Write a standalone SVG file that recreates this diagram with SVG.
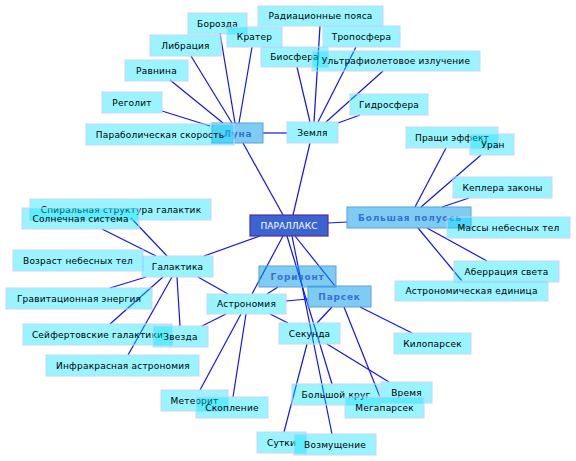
<svg xmlns="http://www.w3.org/2000/svg" width="576" height="461" viewBox="0 0 576 461">
<style>
.l{fill:#00e4ff;fill-opacity:0.4;stroke:#c8d4ff;stroke-width:1}
.d{fill:#0099e6;fill-opacity:0.5;stroke:#5aa0e0;stroke-width:1}
.c{fill:#3a64d0;stroke:#5a2aa0;stroke-width:1.2}
.t{font-family:"DejaVu Sans",sans-serif;font-size:9px;fill:#000;text-anchor:middle;letter-spacing:0.2px}
.b{font-family:"DejaVu Sans",sans-serif;font-size:9px;font-weight:bold;fill:#3a6fd6;text-anchor:middle;letter-spacing:0.8px}
.w{font-family:"DejaVu Sans",sans-serif;font-size:9px;fill:#fff;text-anchor:middle}
#edges line{stroke:#1414f5;stroke-width:1.2}
</style>
<g id="edges">
<line x1="210" y1="126" x2="162" y2="111"/>
<line x1="223" y1="123" x2="170" y2="80"/>
<line x1="232" y1="123" x2="191" y2="56"/>
<line x1="235" y1="123" x2="220" y2="33"/>
<line x1="239" y1="123" x2="252" y2="47"/>
<line x1="263" y1="133" x2="287" y2="133"/>
<line x1="243" y1="143" x2="283" y2="215"/>
<line x1="320" y1="26" x2="314" y2="122"/>
<line x1="297" y1="67" x2="310" y2="122"/>
<line x1="356" y1="47" x2="318" y2="122"/>
<line x1="383" y1="71" x2="326" y2="122"/>
<line x1="360" y1="115" x2="338" y2="123"/>
<line x1="310" y1="143" x2="293" y2="215"/>
<line x1="446" y1="148" x2="415" y2="207"/>
<line x1="481" y1="155" x2="421" y2="207"/>
<line x1="469" y1="198" x2="442" y2="207"/>
<line x1="487" y1="261" x2="427" y2="228"/>
<line x1="462" y1="281" x2="418" y2="228"/>
<line x1="328" y1="223" x2="347" y2="222"/>
<line x1="131" y1="218" x2="167" y2="256"/>
<line x1="102" y1="229" x2="156" y2="256"/>
<line x1="110" y1="288" x2="146" y2="277"/>
<line x1="110" y1="324" x2="163" y2="277"/>
<line x1="128" y1="355" x2="172" y2="277"/>
<line x1="177" y1="277" x2="180" y2="326"/>
<line x1="198" y1="277" x2="228" y2="294"/>
<line x1="260" y1="236" x2="204" y2="256"/>
<line x1="283" y1="236" x2="252" y2="294"/>
<line x1="287" y1="236" x2="332" y2="384"/>
<line x1="292" y1="236" x2="332" y2="434"/>
<line x1="295" y1="236" x2="335" y2="286"/>
<line x1="278" y1="287" x2="267" y2="294"/>
<line x1="286" y1="301" x2="308" y2="299"/>
<line x1="226" y1="314" x2="202" y2="326"/>
<line x1="241" y1="314" x2="200" y2="390"/>
<line x1="246" y1="314" x2="233" y2="397"/>
<line x1="270" y1="314" x2="288" y2="323"/>
<line x1="332" y1="307" x2="317" y2="323"/>
<line x1="344" y1="307" x2="380" y2="397"/>
<line x1="360" y1="307" x2="412" y2="333"/>
<line x1="307" y1="344" x2="284" y2="432"/>
<line x1="327" y1="344" x2="389" y2="382"/>
</g>
<g id="n-luna"><rect class="d" x="212" y="123" width="51" height="20"/><text class="b" x="238" y="136.5">Луна</text></g>
<g id="n-bolshaya"><rect class="d" x="347" y="207" width="124" height="21"/><text class="b" x="410" y="220.5">Большая полуось</text></g>
<g id="n-gorizont"><rect class="d" x="259" y="266" width="77" height="21"/><text class="b" x="297.5" y="279.5">Горизонт</text></g>
<g id="n-parsek"><rect class="d" x="308" y="286" width="63" height="21"/><text class="b" x="339.5" y="299.5">Парсек</text></g>
<g id="n-parallaks"><rect class="c" x="250" y="215" width="78" height="21"/><text class="w" x="289" y="228.5">ПАРАЛЛАКС</text></g>
<g id="n-borozda"><rect class="l" x="188" y="13" width="59" height="21"/><text class="t" x="217.5" y="26.5">Борозда</text></g>
<g id="n-krater"><rect class="l" x="227" y="27" width="55" height="20"/><text class="t" x="254.5" y="40">Кратер</text></g>
<g id="n-libraciya"><rect class="l" x="150" y="35" width="71" height="21"/><text class="t" x="185.5" y="48.5">Либрация</text></g>
<g id="n-ravnina"><rect class="l" x="125" y="60" width="63" height="21"/><text class="t" x="156.5" y="73.5">Равнина</text></g>
<g id="n-regolit"><rect class="l" x="102" y="92" width="60" height="21"/><text class="t" x="132" y="105.5">Реголит</text></g>
<g id="n-parabol"><rect class="l" x="86" y="124" width="148" height="21"/><text class="t" x="160" y="137.5">Параболическая скорость</text></g>
<g id="n-radiac"><rect class="l" x="258" y="6" width="125" height="20"/><text class="t" x="320.5" y="19">Радиационные пояса</text></g>
<g id="n-troposfera"><rect class="l" x="323" y="26" width="77" height="21"/><text class="t" x="361.5" y="39.5">Тропосфера</text></g>
<g id="n-biosfera"><rect class="l" x="261" y="47" width="67" height="20"/><text class="t" x="294.5" y="60">Биосфера</text></g>
<g id="n-ultra"><rect class="l" x="312" y="51" width="168" height="20"/><text class="t" x="396" y="64">Ультрафиолетовое излучение</text></g>
<g id="n-gidrosfera"><rect class="l" x="350" y="94" width="78" height="21"/><text class="t" x="389" y="107.5">Гидросфера</text></g>
<g id="n-zemlya"><rect class="l" x="287" y="122" width="51" height="21"/><text class="t" x="312.5" y="135.5">Земля</text></g>
<g id="n-prashchi"><rect class="l" x="406" y="127" width="92" height="21"/><text class="t" x="452" y="140.5">Пращи эффект</text></g>
<g id="n-uran"><rect class="l" x="470" y="134" width="44" height="21"/><text class="t" x="493" y="147.5">Уран</text></g>
<g id="n-keplera"><rect class="l" x="453" y="177" width="99" height="21"/><text class="t" x="502.5" y="190.5">Кеплера законы</text></g>
<g id="n-massy"><rect class="l" x="447" y="217" width="123" height="21"/><text class="t" x="508.5" y="230.5">Массы небесных тел</text></g>
<g id="n-aberr"><rect class="l" x="454" y="261" width="105" height="21"/><text class="t" x="506.5" y="274.5">Аберрация света</text></g>
<g id="n-astred"><rect class="l" x="395" y="281" width="153" height="20"/><text class="t" x="471.5" y="294">Астрономическая единица</text></g>
<g id="n-spiral"><rect class="l" x="30" y="199" width="181" height="21"/><text class="t" x="121" y="212.5">Спиральная структура галактик</text></g>
<g id="n-solnech"><rect class="l" x="22" y="208" width="117" height="21"/><text class="t" x="80.5" y="221.5">Солнечная система</text></g>
<g id="n-vozrast"><rect class="l" x="13" y="250" width="130" height="21"/><text class="t" x="78" y="263.5">Возраст небесных тел</text></g>
<g id="n-galaktika"><rect class="l" x="142" y="256" width="71" height="21"/><text class="t" x="177.5" y="269.5">Галактика</text></g>
<g id="n-gravit"><rect class="l" x="6" y="288" width="146" height="21"/><text class="t" x="79" y="301.5">Гравитационная энергия</text></g>
<g id="n-seyfert"><rect class="l" x="23" y="324" width="149" height="21"/><text class="t" x="97.5" y="337.5">Сейфертовские галактики</text></g>
<g id="n-zvezda"><rect class="l" x="153" y="326" width="55" height="21"/><text class="t" x="180.5" y="339.5">Звезда</text></g>
<g id="n-infra"><rect class="l" x="46" y="355" width="153" height="21"/><text class="t" x="123" y="368.5">Инфракрасная астрономия</text></g>
<g id="n-astronomiya"><rect class="l" x="207" y="294" width="79" height="20"/><text class="t" x="246.5" y="307">Астрономия</text></g>
<g id="n-sekunda"><rect class="l" x="279" y="323" width="61" height="21"/><text class="t" x="309.5" y="336.5">Секунда</text></g>
<g id="n-kiloparsek"><rect class="l" x="394" y="333" width="77" height="21"/><text class="t" x="432.5" y="346.5">Килопарсек</text></g>
<g id="n-bolshoykrug"><rect class="l" x="292" y="384" width="88" height="21"/><text class="t" x="336" y="397.5">Большой круг</text></g>
<g id="n-vremya"><rect class="l" x="381" y="382" width="51" height="21"/><text class="t" x="406.5" y="395.5">Время</text></g>
<g id="n-megaparsek"><rect class="l" x="345" y="397" width="79" height="21"/><text class="t" x="384.5" y="410.5">Мегапарсек</text></g>
<g id="n-meteorit"><rect class="l" x="161" y="390" width="67" height="21"/><text class="t" x="194.5" y="403.5">Метеорит</text></g>
<g id="n-skoplenie"><rect class="l" x="196" y="397" width="72" height="21"/><text class="t" x="232" y="410.5">Скопление</text></g>
<g id="n-sutki"><rect class="l" x="257" y="432" width="49" height="21"/><text class="t" x="281.5" y="445.5">Сутки</text></g>
<g id="n-vozmushch"><rect class="l" x="294" y="434" width="82" height="21"/><text class="t" x="335" y="447.5">Возмущение</text></g>
</svg>
